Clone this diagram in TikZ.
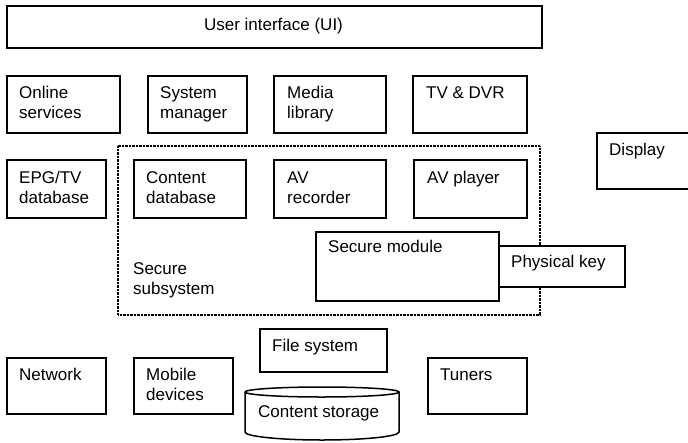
\documentclass[tikz,border=0pt]{standalone}
\usepackage{fontspec}
\setmainfont{Liberation Sans}
\begin{document}
\begin{tikzpicture}[x=1pt,y=-1pt,
  box/.style={draw, line width=1.5pt, rectangle, inner sep=0pt, anchor=north west, fill=white},
  lbl/.style={anchor=north west, inner sep=0pt, align=left, font=\fontsize{17}{20}\selectfont},
  secbox/.style={draw, line width=1.3pt, dash pattern=on 0.8pt off 0.6pt}]
\useasboundingbox (0,0) rectangle (688,442);
\newcommand\bx[5]{\node[box, minimum width={#4-#2}, minimum height={#5-#3}] (#1) at (#2,#3) {};}
\newcommand\tx[4]{\node[lbl] (#1) at (#2,#3-13) {\rule{0pt}{13pt}#4};}
% secure subsystem (dotted)
\draw[secbox] (118,146) rectangle (540,315);
\coordinate (subsys) at (118,146);
% boxes
\node[draw, line width=1.5pt, inner sep=0pt, anchor=north west, minimum width=535, minimum height=42] (ui) at (6,5) {};
\node[anchor=base, inner sep=0pt, font=\fontsize{17}{20}\selectfont] (ui-t) at (273.5,30) {User interface (UI)};
\bx{online}{6}{75}{119}{132}
\bx{sysman}{147}{75}{246}{132}
\bx{media}{273}{75}{385}{132}
\bx{tvdvr}{412}{75}{526}{132}
\bx{display}{596}{132}{700}{188}
\bx{epg}{6}{159}{105}{217}
\bx{contentdb}{133}{159}{245}{217}
\bx{avrec}{273}{159}{385}{217}
\bx{avplay}{413}{159}{526}{217}
\bx{secmod}{315}{231}{498}{300}
\bx{physkey}{498}{245}{624}{286}
\bx{filesys}{259}{328}{386}{371}
\bx{network}{6}{357}{105}{413}
\bx{mobile}{133}{357}{232}{413}
\bx{tuners}{427}{357}{526}{413}
% content storage cylinder
\draw[line width=1.5pt, fill=white] (245,392) -- (245,432) arc[start angle=180, end angle=360, x radius=77, y radius=-8]
  -- (399,392) arc[start angle=0, end angle=180, x radius=77, y radius=-5] -- cycle;
\draw[line width=1.5pt] (245,392) arc[start angle=180, end angle=360, x radius=77, y radius=-5];
% labels
\tx{online-t}{19}{98}{Online\\services}
\tx{sysman-t}{160}{98}{System\\manager}
\tx{media-t}{287}{98}{Media\\library}
\tx{tvdvr-t}{426}{98}{TV \& DVR}
\tx{display-t}{609}{155}{Display}
\tx{epg-t}{19}{183}{EPG/TV\\database}
\tx{contentdb-t}{146}{183}{Content\\database}
\tx{avrec-t}{287}{183}{AV\\recorder}
\tx{avplay-t}{427}{183}{AV player}
\tx{subsys-t}{133}{274}{Secure\\subsystem}
\tx{secmod-t}{328}{252}{Secure module}
\tx{physkey-t}{511}{267}{Physical key}
\tx{filesys-t}{272}{351}{File system}
\tx{storage-t}{258}{417}{Content storage}
\tx{network-t}{19}{380}{Network}
\tx{mobile-t}{146}{380}{Mobile\\devices}
\tx{tuners-t}{440}{380}{Tuners}
\end{tikzpicture}
\end{document}
